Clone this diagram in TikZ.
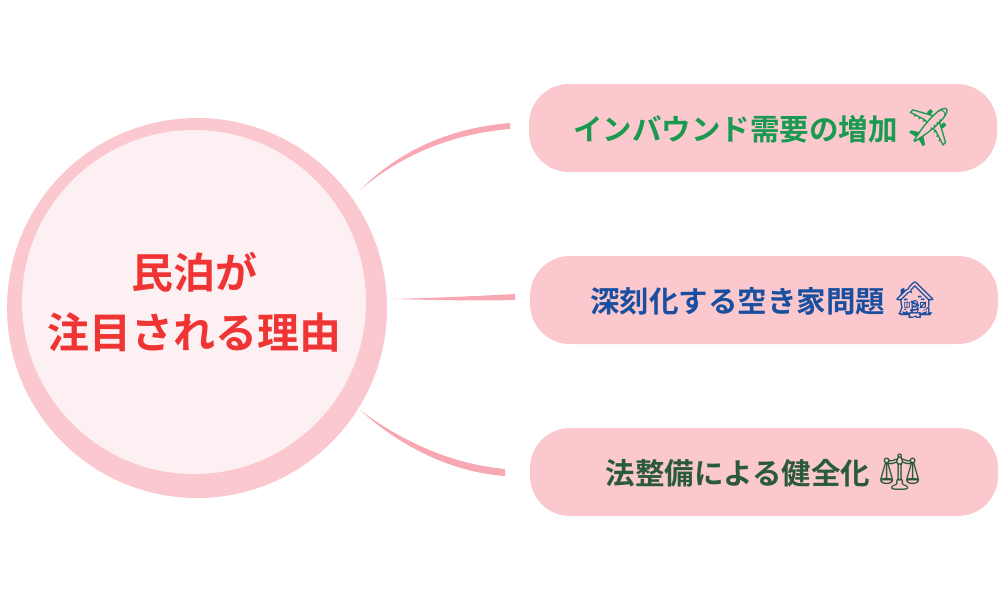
\documentclass[tikz,border=0pt]{standalone}
\usepackage{fontspec}
\setmainfont{Noto Sans CJK JP}[BoldFont={Noto Sans CJK JP Bold}]
\newfontfamily\emo{Noto Emoji}
\definecolor{ring}{HTML}{FCC8D0}
\definecolor{inner}{HTML}{FDF0F2}
\definecolor{boxc}{HTML}{FBC8CE}
\definecolor{conn}{HTML}{F8A8B2}
\definecolor{redt}{HTML}{F03434}
\definecolor{greent}{HTML}{1A9A50}
\definecolor{bluet}{HTML}{1A4FA0}
\definecolor{dgreent}{HTML}{2A5A3A}
\begin{document}
\begin{tikzpicture}[x=1pt,y=-1pt,
  reason/.style={fill=boxc,rounded corners=40pt,minimum width=468pt,minimum height=88pt,font=\bfseries\fontsize{29.5}{32}\selectfont},
  tap/.style={fill=conn}]
\useasboundingbox (0,0) rectangle (1000,600);
\fill[ring] (197,308) circle (190);
\node[circle,fill=inner,minimum size=344pt,inner sep=0pt,align=center,text=redt,font=\bfseries\fontsize{42}{60}\selectfont] (c) at (194,302) {民泊が\\注目される理由};
\node[reason,text=greent] (b1) at (763,128) {インバウンド需要の増加\ {\emo\fontsize{38}{38}\selectfont ✈}};
\node[reason,text=bluet] (b2) at (764,300) {深刻化する空き家問題\ {\emo\fontsize{36}{36}\selectfont 🏚}};
\node[reason,text=dgreent] (b3) at (764,472) {法整備による健全化\ {\emo\fontsize{36}{36}\selectfont ⚖}};
\coordinate (s1) at (360,190); \coordinate (s2) at (393,299); \coordinate (s3) at (360,410);
\fill[tap] (s1) .. controls (400,150) and (450,128) .. (510,123) -- (510,129) .. controls (450,134) and (400,156) .. (s1);
\fill[tap] (s2) .. controls (430,298) and (480,296) .. (515,294) -- (515,300) .. controls (480,301) and (430,300) .. (s2);
\fill[tap] (s3) .. controls (400,440) and (450,464) .. (505,469) -- (505,476) .. controls (450,472) and (400,446) .. (s3);
\end{tikzpicture}
\end{document}
